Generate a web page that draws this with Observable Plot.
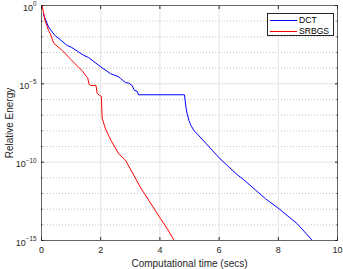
<!DOCTYPE html>
<html><head><meta charset="utf-8">
<script src="https://cdn.jsdelivr.net/npm/d3@7"></script>
<script src="https://cdn.jsdelivr.net/npm/@observablehq/plot@0.6"></script>
<style>
body{margin:0;background:#fff}
#wrap{position:relative;width:343px;height:269px;font-family:"Liberation Sans",Arial,sans-serif}
#legend{position:absolute;left:266.5px;top:12.5px;width:67px;height:23px;box-sizing:border-box;border:0.7px solid #262626;background:#fff;font-size:8.6px;color:#000}
.row{position:absolute;left:0;height:10px;width:100%}
.sw{position:absolute;left:2.5px;width:27px;top:4.5px;height:0;border-top:1px solid}
.lb{position:absolute;left:31.5px;top:0;line-height:10px}
</style>
</head><body><div id="wrap"></div>
<script>
const seriesNames = ["DCT", "SRBGS"];
const seriesColors = ["#0000ff", "#ff0000"];

const dctTime   = [0.06, 0.24, 0.44, 0.87, 1.02, 1.43, 1.59, 1.99, 2.33, 2.61, 2.67, 2.84, 2.95, 3.06, 3.14, 3.23, 3.28, 4.83, 4.88, 4.92, 4.98, 5.05, 5.15, 5.45, 6.03, 6.61, 6.83, 7.57, 8.02, 8.64, 9.15];
const dctEnergy = [2.8e-1, 4.2e-2, 1.3e-2, 2.8e-3, 2.1e-3, 6.5e-4, 4.8e-4, 1.26e-4, 4.5e-5, 2.8e-5, 2.2e-5, 1.2e-5, 1.1e-5, 7.9e-6, 3.8e-6, 3.4e-6, 2.0e-6, 2.0e-6, 3.2e-7, 1.26e-7, 4.6e-8, 2.2e-8, 1.05e-8, 2.6e-9, 1.66e-10, 1.6e-11, 7.6e-12, 4.6e-13, 1.07e-13, 1.17e-14, 1.0e-15];

const srbgsTime   = [0.02, 0.12, 0.24, 0.30, 0.41, 0.66, 1.00, 1.26, 1.37, 1.49, 1.56, 1.60, 1.66, 1.84, 1.88, 1.96, 2.02, 2.05, 2.16, 2.35, 2.61, 2.84, 3.34, 4.02, 4.25, 4.47, 4.52];
const srbgsEnergy = [1.0, 1.1e-1, 2.5e-2, 1.55e-2, 4.0e-3, 1.6e-3, 3.5e-4, 1.1e-4, 7.1e-5, 3.4e-5, 2.5e-5, 1.0e-5, 7.9e-6, 7.9e-6, 2.5e-6, 1.8e-6, 1.6e-6, 6.3e-8, 1.35e-8, 2.4e-9, 3.4e-10, 1.3e-10, 2.5e-12, 2.5e-14, 5.6e-15, 1.1e-15, 8.0e-16];

const xTicks = [0, 2, 4, 6, 8, 10];
const yMajorTicks = [1, 1e-5, 1e-10, 1e-15];
const yTickBase = "10";
const yTickExponents = ["0", "-5", "-10", "-15"];
const yMinorTicks = [1e-1, 1e-2, 1e-3, 1e-4, 1e-6, 1e-7, 1e-8, 1e-9, 1e-11, 1e-12, 1e-13, 1e-14];
const xLabel = "Computational time (secs)";
const yLabel = "Relative Energy";

const rows = [
  ...dctTime.map((t, i) => ({series: seriesNames[0], t, e: dctEnergy[i]})),
  ...srbgsTime.map((t, i) => ({series: seriesNames[1], t, e: srbgsEnergy[i]}))
];
const fmt = d => yTickBase + "^" + yTickExponents[yMajorTicks.indexOf(d)];
const axisColor = "#262626";
const blank = () => "";

const chart = Plot.plot({
  width: 343, height: 269,
  marginLeft: 41, marginRight: 6, marginTop: 5, marginBottom: 29,
  style: {fontFamily: '"Liberation Sans", Arial, sans-serif', fontSize: "9px", color: axisColor, background: "#fff"},
  x: {domain: [0, 10]},
  y: {type: "log", domain: [1e-15, 1]},
  color: {domain: seriesNames, range: seriesColors},
  marks: [
    Plot.gridY(yMinorTicks, {stroke: "#c4c4c4", strokeOpacity: 1, strokeDasharray: "1,2"}),
    Plot.gridY(yMajorTicks.slice(1, -1), {stroke: "#e3e3e3", strokeOpacity: 1}),
    Plot.gridX(xTicks.slice(1, -1), {stroke: "#e3e3e3", strokeOpacity: 1}),
    Plot.line(rows, {x: "t", y: "e", z: "series", stroke: "series", strokeWidth: 1, clip: true}),
    Plot.frame({stroke: axisColor, strokeWidth: 0.7}),
    Plot.axisX(xTicks, {anchor: "bottom", tickSize: -3, tickFormat: blank, label: null, stroke: axisColor}),
    Plot.axisX(xTicks, {anchor: "top", tickSize: -3, tickFormat: blank, label: null, stroke: axisColor}),
    Plot.axisY(yMajorTicks, {anchor: "left", tickSize: -3, tickFormat: blank, label: null, stroke: axisColor}),
    Plot.axisY(yMajorTicks, {anchor: "right", tickSize: -3, tickFormat: blank, label: null, stroke: axisColor}),
    Plot.axisY(yMinorTicks, {anchor: "left", tickSize: -1.5, tickFormat: blank, label: null, stroke: axisColor}),
    Plot.axisY(yMinorTicks, {anchor: "right", tickSize: -1.5, tickFormat: blank, label: null, stroke: axisColor}),
    Plot.axisX(xTicks, {anchor: "bottom", tickSize: 0, tickPadding: 6, label: null}),
    Plot.axisX([], {anchor: "bottom", tickSize: 0, label: xLabel, labelAnchor: "center", labelOffset: 26, labelArrow: "none", fontSize: 10}),
    Plot.axisY(yMajorTicks, {anchor: "left", tickSize: 0, tickPadding: 5, tickFormat: fmt, label: null, ariaLabel: "ylabels"}),
    Plot.axisY([], {anchor: "left", tickSize: 0, label: yLabel, labelAnchor: "center", labelOffset: 36, labelArrow: "none", fontSize: 10})
  ]
});

// render "10^e" tick labels as base + superscript exponent
d3.select(chart).selectAll("text").each(function () {
  const t = this.textContent;
  if (/^10\^/.test(t)) {
    const exp = t.slice(3).replace("-", "\u2212");
    const sel = d3.select(this);
    sel.text("");
    sel.append("tspan").text(yTickBase).attr("dy", "0.25em");
    sel.append("tspan").text(exp).attr("dy", "-0.75em").attr("font-size", "6.3px");
  }
});

const wrap = document.getElementById("wrap");
wrap.appendChild(chart);

const legend = document.createElement("div");
legend.id = "legend";
seriesNames.forEach((name, i) => {
  const row = document.createElement("div");
  row.className = "row";
  row.style.top = (1.8 + i * 10.7) + "px";
  const sw = document.createElement("div");
  sw.className = "sw";
  sw.style.borderTopColor = seriesColors[i];
  const lb = document.createElement("div");
  lb.className = "lb";
  lb.textContent = name;
  row.appendChild(sw); row.appendChild(lb);
  legend.appendChild(row);
});
wrap.appendChild(legend);
</script>
</body></html>
